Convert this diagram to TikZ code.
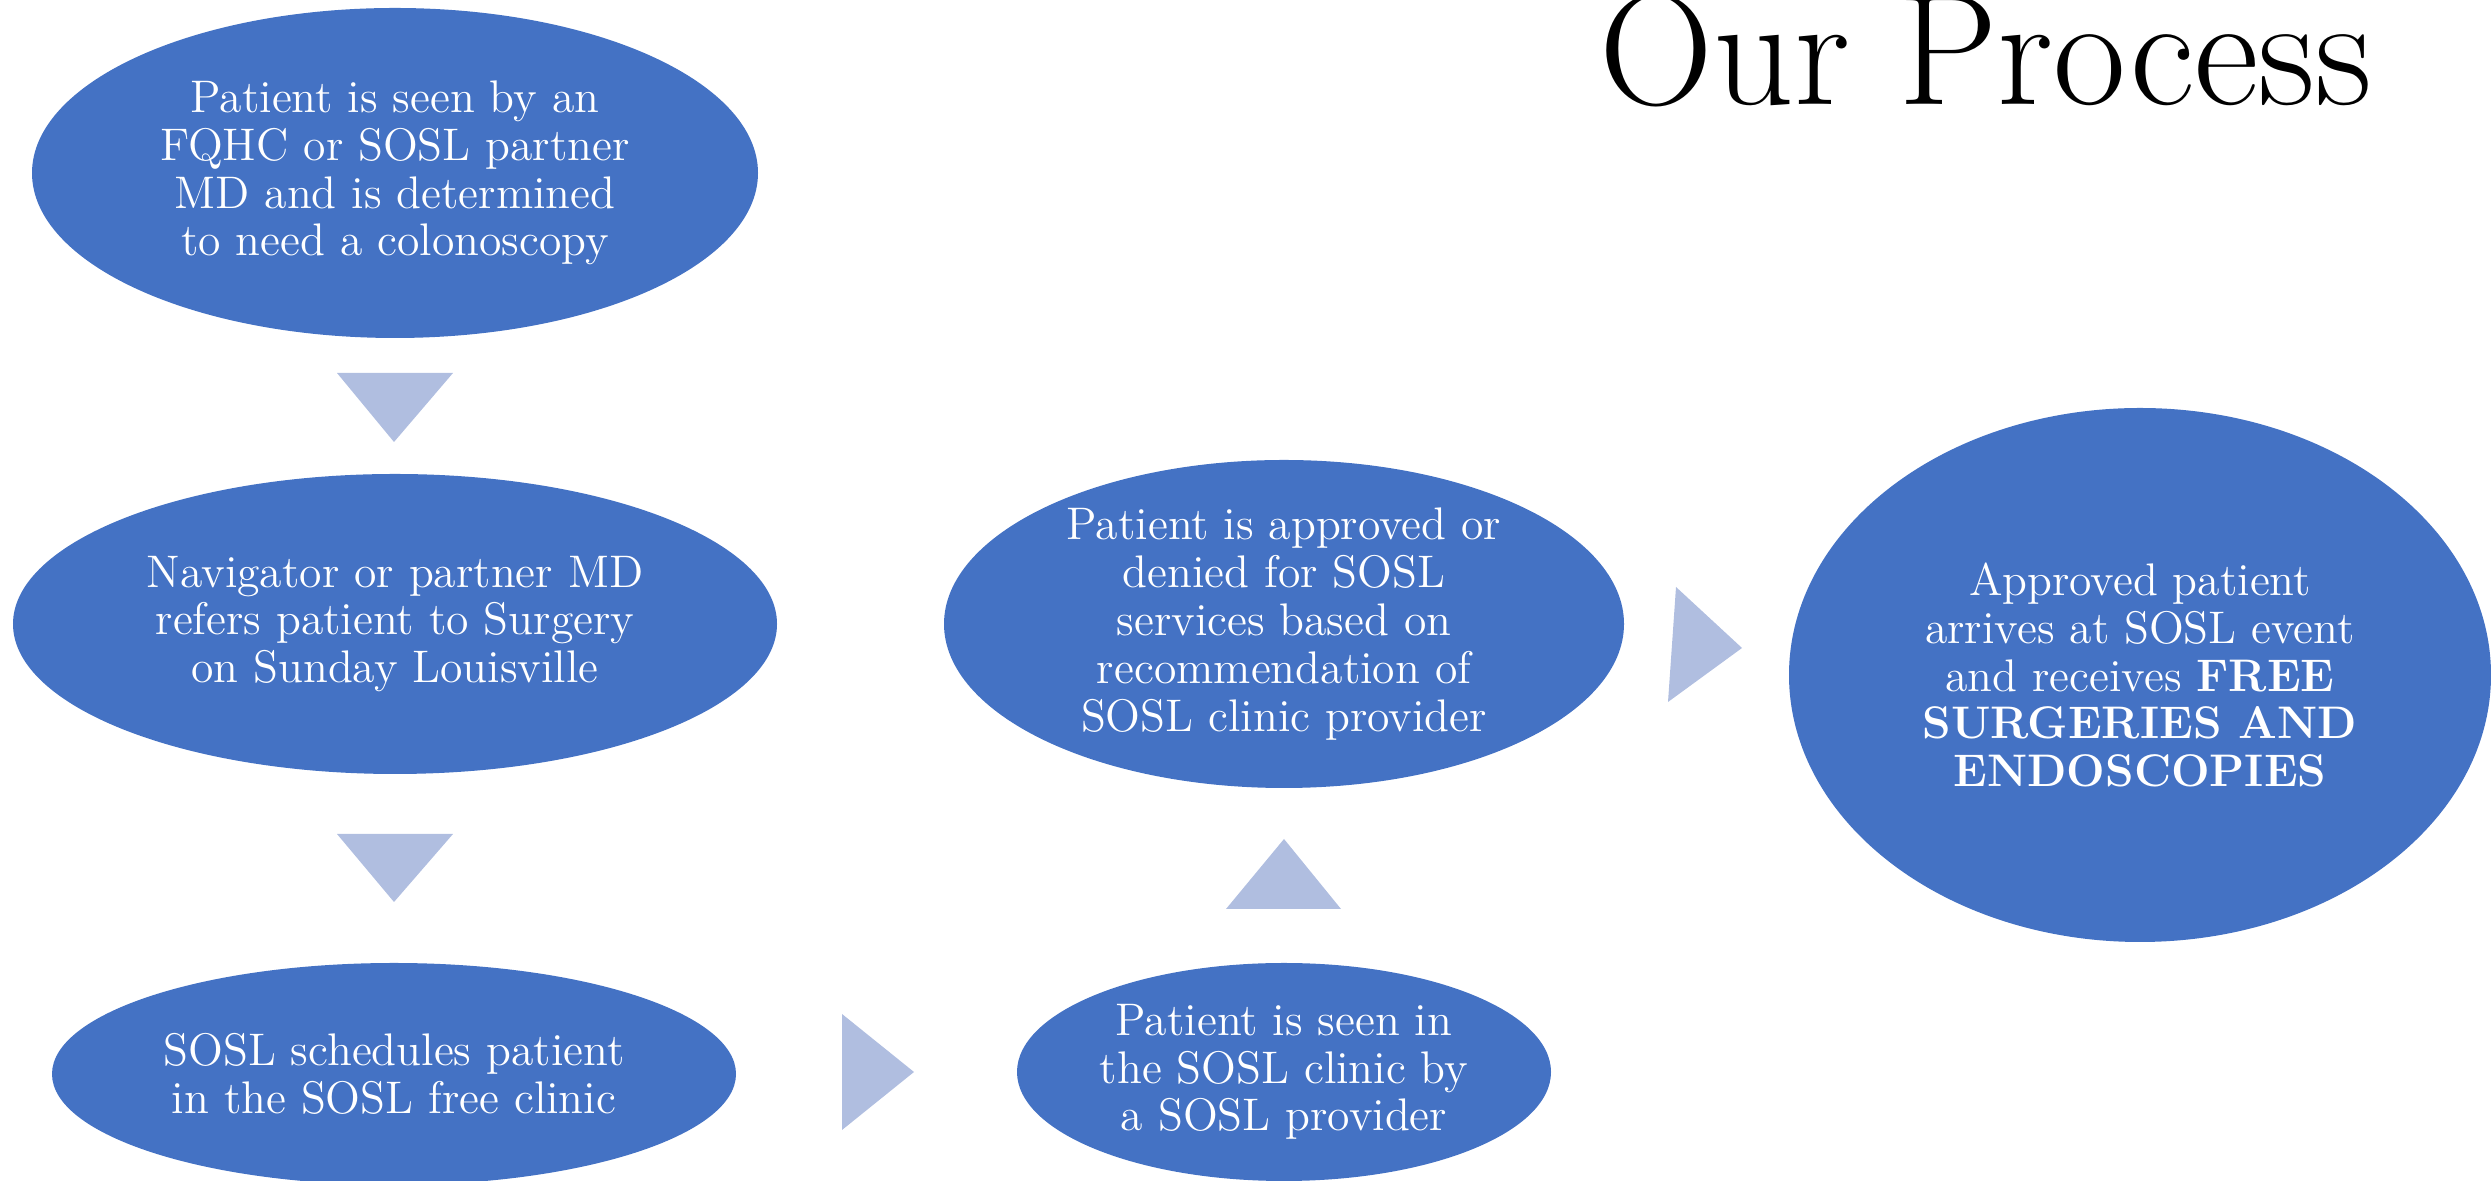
\documentclass[tikz,border=0pt]{standalone}
\usetikzlibrary{shapes.geometric}
\definecolor{stageblue}{RGB}{68,114,196}
\definecolor{pointerblue}{RGB}{176,190,224}
\begin{document}
\begin{tikzpicture}[
  stage/.style={ellipse,fill=stageblue,text=white,inner sep=-2pt,align=center,
    font=\fontsize{13}{13.6}\selectfont},
  pointer/.style={fill=pointerblue}]
\useasboundingbox(0,0)rectangle(24.91,11.81);
\node[font=\fontsize{45}{50}\selectfont,anchor=base](title)at(19.86,10.76){Our Process};
\node[stage,minimum width=7.26cm,minimum height=3.3cm](seen)at(3.95,10.08)
  {Patient is seen by an\\FQHC or SOSL partner\\MD and is determined\\to need a colonoscopy};
\node[stage,minimum width=7.64cm,minimum height=3cm](refer)at(3.95,5.57)
  {Navigator or partner MD\\refers patient to Surgery\\on Sunday Louisville};
\node[stage,minimum width=6.84cm,minimum height=2.22cm](sched)at(3.94,1.07)
  {SOSL schedules patient\\in the SOSL free clinic};
\node[stage,minimum width=5.34cm,minimum height=2.18cm](clinic)at(12.84,1.09)
  {Patient is seen in\\the SOSL clinic by\\a SOSL provider};
\node[stage,minimum width=6.8cm,minimum height=3.28cm](approve)at(12.84,5.57)
  {Patient is approved or\\denied for SOSL\\services based on\\recommendation of\\SOSL clinic provider};
\node[stage,minimum width=7.02cm,minimum height=5.34cm](event)at(21.4,5.06)
  {Approved patient\\arrives at SOSL event\\and receives \textbf{FREE}\\\textbf{SURGERIES AND}\\\textbf{ENDOSCOPIES}};
\fill[pointer]
  (3.37,8.08)--(4.53,8.08)--(3.94,7.39)--cycle
  (3.37,3.47)--(4.53,3.47)--(3.94,2.79)--cycle
  (8.42,1.67)--(8.42,0.51)--(9.14,1.09)--cycle
  (12.26,2.72)--(13.41,2.72)--(12.84,3.42)--cycle
  (16.76,5.94)--(16.68,4.79)--(17.42,5.33)--cycle;
\end{tikzpicture}
\end{document}
